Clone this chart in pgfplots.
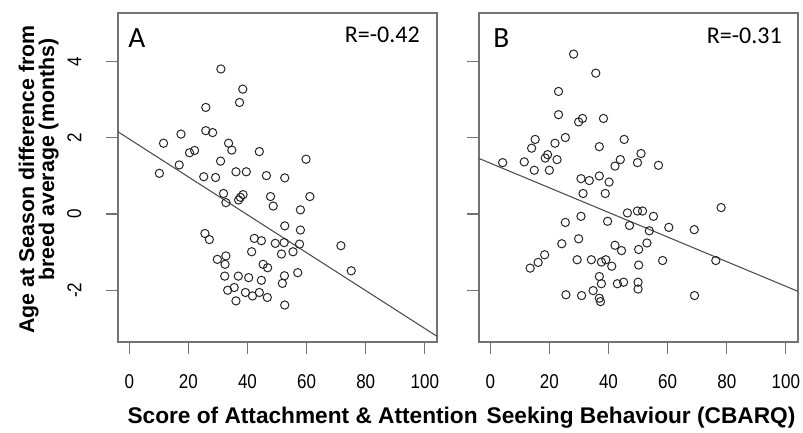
\documentclass[border=0pt]{standalone}
\usepackage{fontspec}
\setmainfont{Liberation Sans}
\newfontfamily\calib{Carlito}
\usepackage{graphicx}
\usepackage{pgfplots}
\pgfplotsset{compat=1.18}

\newcommand\tl[1]{\scalebox{0.85}[1]{#1}}
\newcommand\yl[1]{\rotatebox{90}{\tl{#1}}}

\pgfplotsset{
  panel/.style={
    scale only axis, width=239.25pt, height=246.75pt,
    xmin=-3.8, xmax=104.1, ymin=-3.36, ymax=5.28,
    axis line style={black!55, line width=1.1pt},
    tick align=outside, major tick length=9pt,
    tick style={black!55, line width=0.9pt},
    xtick pos=bottom, ytick pos=left,
    xtick={0,20,40,60,80,100}, ytick={-2,0,2,4},
    xticklabels={\tl{0},\tl{20},\tl{40},\tl{60},\tl{80},\tl{100}},
    tick label style={font=\fontsize{15}{17}\selectfont},
    xticklabel style={yshift=-12pt},
    yticklabel style={anchor=east, xshift=-15pt},
    clip=false,
  },
  pts/.style={only marks, mark=o, mark size=3.1pt,
    mark options={line width=0.75pt, black!85}},
  fit/.style={no marks, black!70, line width=0.8pt},
}

\begin{document}
\begin{tikzpicture}[x=1pt,y=1pt]
\path[use as bounding box] (-88.5pt,9.75pt) rectangle (513.75pt,-314.25pt);

% panel A
\begin{axis}[panel, name=A, at={(0pt,0pt)}, anchor=north west,
  yticklabels={\yl{-2},\yl{0},\yl{2},\yl{4}}]
\addplot[pts] coordinates {
  (31.0,3.81) (38.4,3.28) (37.3,2.93) (25.9,2.80) (25.9,2.19) (28.2,2.14)
  (17.5,2.10) (11.6,1.86) (33.6,1.86) (34.7,1.68) (22.1,1.67) (20.4,1.61)
  (44.0,1.64) (59.8,1.44) (30.9,1.39) (16.9,1.29) (10.2,1.07) (36.1,1.11)
  (39.6,1.11) (25.2,0.98) (29.2,0.96) (46.4,1.01) (52.6,0.95)
  (31.9,0.54) (38.5,0.51) (37.6,0.44) (37.0,0.37) (32.7,0.30) (47.8,0.46)
  (61.1,0.46) (48.7,0.21) (57.9,0.11) (52.6,-0.31) (57.9,-0.42) (25.6,-0.51)
  (27.1,-0.67) (42.3,-0.64) (44.7,-0.70) (49.4,-0.77) (52.4,-0.75) (57.6,-0.79)
  (71.6,-0.83) (41.4,-0.99) (51.5,-1.05) (55.4,-0.99) (32.7,-1.10) (29.8,-1.19)
  (32.4,-1.32) (45.3,-1.32) (46.8,-1.41) (75.1,-1.49) (32.3,-1.63) (36.9,-1.63)
  (40.4,-1.67) (52.5,-1.62) (44.7,-1.74) (51.8,-1.82) (57.0,-1.54) (35.5,-1.93)
  (33.3,-2.00) (39.3,-2.06) (41.7,-2.15) (44.0,-2.06) (46.7,-2.19) (36.1,-2.28)
  (52.6,-2.39)
};
\addplot[fit] coordinates {(-3.8,2.16) (104.1,-3.21)};
\end{axis}
\node[anchor=base west, inner sep=0, font=\calib\fontsize{22}{24}\selectfont] at (7.5pt,-25.5pt) {A};
\node[anchor=base east, inner sep=0, font=\calib\fontsize{18}{20}\selectfont] at (226.5pt,-21.75pt) {R=-0.42};

% panel B
\begin{axis}[panel, name=B, at={(270.75pt,0pt)}, anchor=north west, yticklabels={}]
\addplot[pts] coordinates {
  (28.2,4.20) (35.7,3.70) (23.1,3.22) (23.1,2.61) (29.9,2.42) (31.2,2.51)
  (38.3,2.51) (15.2,1.96) (25.4,2.01) (21.9,1.86) (14.0,1.73) (45.3,1.96)
  (36.9,1.77) (19.4,1.56) (18.6,1.47) (22.6,1.43) (51.0,1.59) (44.0,1.43)
  (42.2,1.26) (49.8,1.35) (56.9,1.28) (4.2,1.35) (11.5,1.37) (14.9,1.15)
  (20.0,1.15) (30.7,0.93) (33.5,0.88) (36.9,1.00) (40.2,0.84) (31.4,0.54)
  (38.9,0.54)
  (78.1,0.17) (46.4,0.03) (49.8,0.08) (51.5,0.08) (55.2,-0.06) (30.7,-0.06)
  (25.4,-0.22) (39.7,-0.19) (47.1,-0.30) (53.8,-0.44) (60.4,-0.35) (69.0,-0.41)
  (29.9,-0.65) (24.2,-0.78) (42.2,-0.82) (53.0,-0.76) (44.4,-0.96) (50.2,-0.93)
  (18.4,-1.07) (16.2,-1.27) (13.5,-1.42) (29.4,-1.20) (34.2,-1.20) (37.6,-1.26)
  (39.1,-1.20) (41.1,-1.37) (50.2,-1.34) (58.3,-1.22) (76.3,-1.22) (36.9,-1.64)
  (37.6,-1.83) (43.0,-1.83) (45.1,-1.79) (50.0,-1.79) (50.0,-1.97) (34.8,-2.01)
  (25.6,-2.12) (30.9,-2.14) (36.9,-2.21) (37.3,-2.30) (69.1,-2.14)
};
\addplot[fit] coordinates {(-3.8,1.46) (104.1,-2.03)};
\end{axis}
\node[anchor=base west, inner sep=0, font=\calib\fontsize{22}{24}\selectfont] at (281.25pt,-25.5pt) {B};
\node[anchor=base east, inner sep=0, font=\calib\fontsize{18}{20}\selectfont] at (498pt,-22.5pt) {R=-0.31};

% shared labels
\node[font=\bfseries\fontsize{17}{19}\selectfont] at (257.6pt,-303.75pt)
  {Score of Attachment \& Attention\hspace{0.4em}Seeking Behaviour (CBARQ)};
\node[rotate=90, font=\bfseries\fontsize{16}{19}\selectfont] at (-67pt,-125pt)
  {Age at Season difference from};
\node[rotate=90, font=\bfseries\fontsize{16}{19}\selectfont] at (-52pt,-110pt)
  {breed average (months)};
\end{tikzpicture}
\end{document}
